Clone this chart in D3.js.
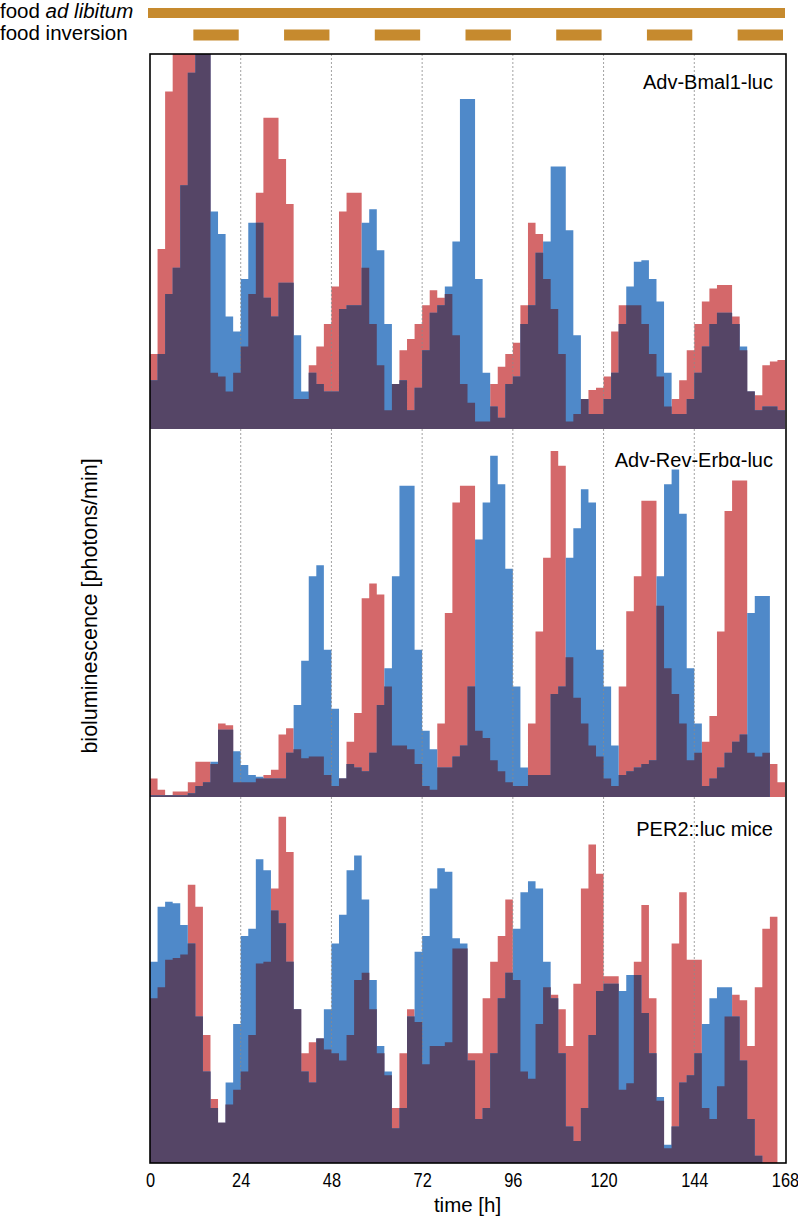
<!DOCTYPE html>
<html><head><meta charset="utf-8">
<script src="https://cdn.jsdelivr.net/npm/d3@7"></script>
<style>
body{margin:0;background:#fff}
svg{display:block}
text{font-family:"Liberation Sans",Arial,Helvetica,sans-serif;fill:#000}
</style>
</head><body>
<svg id="chart" width="798" height="1221"></svg>
<script>
// ---- data (2-hour bins, value = % of panel height) ----
const hours = d3.range(0, 169, 2);
const xTicks = [0, 24, 48, 72, 96, 120, 144, 168];
const gridHours = [24, 48, 72, 96, 120, 144];
const adLibitum = [0, 168];
const inversionStarts = [12, 36, 60, 84, 108, 132, 156];
const inversionLength = 12;
const panelNames = ["Adv-Bmal1-luc", "Adv-Rev-Erbα-luc", "PER2::luc mice"];

const bmal1Red = [20,48,90,110,110,110,110,110,15,14,
  10,15,22,36,63,83,83,72,60,8,
  8,17,22,28,38,58,63,63,43,28,
  17,5,12,21,24,28,33,37,35,36,
  25,12,7,2,2,12,16.6,20,23,33,
  55,52,40,32,20,2,4,8,10.4,11,
  14,26,33,33,33,28,20,14,6,8,
  13,21,28,34,37.5,38.4,38.4,30,21,10,
  9,17,18,18.4,19];
const bmal1Blue = [13,20,36,43,65,95,110,110,58,52,
  30,26,40,55,55,35,30,39,39,25,
  10,15,12,10,10,32,33,33,55,58.6,
  47.7,28,12,13,5,11,21,31,33,38,
  50,88,88,40,15,6,3,12,14,28,
  33,47,50,70,70,53,25,8,4,4,
  8,15,28,38,44.6,45,40,34,15,4,
  4,8,15,22,28,31,31,28,22,10,
  5,6,6,5,5];
const revRed = [5,2,0.5,1.5,1.5,4,9.6,9.6,9,20,
  19.5,4,4,4,5,6,7.4,17,18.7,13,
  10.5,11,11,6,3,5,15,22.8,54,58,
  55,30,14,14,13,9,3,2,20,50,
  80,84.6,84.6,18,16,10,7,4,3,3,
  20,45,65,94,90,38,27,20,14,11,
  5,3,30,50.5,60,80.5,80.5,52,35,28,
  20,10,12,15,22,45,77.7,86,86,12,
  11,12,9,4,1];
const revBlue = [0.5,0.5,0.5,0.5,0.5,1,3,4,9.6,18.3,
  18.3,12.4,8.7,6,5.5,5,5,5,12,25,
  37,60,63,40,24,5,9,8,7,12,
  25,35,60,84.6,84.6,40,18,13,8,8,
  11,14,30,70,80,92.7,85,62,30,8,
  6,6,6,28,30,65,73,83.6,80,40,
  30,14,6,7,8,9,10,60,85,89,
  77,35,20,3,5,8,12,15,17,50,
  54.6,54.6,0,0,0];
const per2Red = [45,48,55.5,56,57,76,70,35,17.5,11,
  16,20,25,35,54.5,55,75,94.6,85,42,
  30,33,34,31,30,28,35,50,52,42,
  30,24,15,30,42,38.5,27,32,32,33,
  58.6,58.6,30,30,45,55,62,72,50,25,
  23,38,48,46,42,32,49,75,87,79,
  51,51,20,21.8,55,70.5,45,17,4,60,
  74,55.5,55.5,15,12,21,40,46,44.5,32,
  48,64,67.3,0,0];
const per2Blue = [55,70,71.4,71,65,60,40,25,15,11,
  22,38,62,64,83,80,69,65.5,55,42,
  25,22,34,42,60,67.8,80,84,72,50,
  32,25,9.5,15,40,57.7,62,75,80.5,79.6,
  61.4,60,28,12,15,30,45,52,64,74,
  77,75,55,45,30,10,6,15,35,47,
  49,49,47,51.4,51.4,41,30,18,5,10,
  22,24,30,38,45,48,48,40,28,12,
  2,0,0,0,0];

// ---- layout ----
const svg = d3.select("#chart");
const colRed = "#d4686a", colBlue = "#4f89c9", colDark = "#554566", colFood = "#c68a2e";
const x = d3.scaleLinear().domain([0, 168]).range([150, 785]);
const panels = [
  {name: panelNames[0], red: bmal1Red, blue: bmal1Blue, top: 54, bottom: 429, labelDy: 35},
  {name: panelNames[1], red: revRed, blue: revBlue, top: 429, bottom: 797, labelDy: 38},
  {name: panelNames[2], red: per2Red, blue: per2Blue, top: 797, bottom: 1163, labelDy: 39}
];

// food bars
svg.append("text").attr("x", 0).attr("y", 18).attr("font-size", 20.5)
  .html('food <tspan font-style="italic">ad libitum</tspan>');
svg.append("text").attr("x", 0).attr("y", 40).attr("font-size", 20.5).text("food inversion");
svg.append("rect").attr("x", x(adLibitum[0]) - 2).attr("y", 8)
  .attr("width", x(adLibitum[1]) - x(adLibitum[0]) + 2).attr("height", 10).attr("fill", colFood);
svg.selectAll("rect.inv").data(inversionStarts).enter().append("rect").attr("class", "inv")
  .attr("x", d => x(d) - 2).attr("y", 29.5)
  .attr("width", x(inversionLength) - x(0)).attr("height", 11).attr("fill", colFood);

const defs = svg.append("defs");
panels.forEach((p, pi) => {
  const y = d3.scaleLinear().domain([0, 100]).range([p.bottom, p.top]);
  defs.append("clipPath").attr("id", "clip" + pi).append("rect")
    .attr("x", x(0)).attr("y", p.top).attr("width", x(168) - x(0)).attr("height", p.bottom - p.top);
  const g = svg.append("g").attr("clip-path", `url(#clip${pi})`);
  const mk = vals => d3.area().curve(d3.curveStepAfter)
    .x((d, i) => x(hours[i])).y0(p.bottom).y1(d => y(d))(vals);
  const minVals = p.red.map((v, i) => Math.min(v, p.blue[i]));
  g.append("path").attr("d", mk(p.red)).attr("fill", colRed);
  g.append("path").attr("d", mk(p.blue)).attr("fill", colBlue);
  g.selectAll("line.grid").data(gridHours).enter().append("line").attr("class", "grid")
    .attr("x1", d => x(d)).attr("x2", d => x(d)).attr("y1", p.top).attr("y2", p.bottom)
    .attr("stroke", "#8a8a8a").attr("stroke-width", 0.8).attr("stroke-dasharray", "2,2");
  g.append("path").attr("d", mk(minVals)).attr("fill", colDark);
  svg.append("text").attr("x", 773).attr("y", p.top + p.labelDy).attr("font-size", 20)
    .attr("text-anchor", "end").text(p.name);
});

// frame
svg.append("rect").attr("x", x(0)).attr("y", 54).attr("width", x(168) - x(0) + 1).attr("height", 1163 - 54)
  .attr("fill", "none").attr("stroke", "#000").attr("stroke-width", 1.6);

// x axis
const xAxis = d3.axisBottom(x).tickValues(xTicks).tickSize(0).tickPadding(10);
const ax = svg.append("g").attr("transform", "translate(0,1163)").call(xAxis);
ax.select(".domain").remove();
ax.selectAll("text").attr("font-size", 19.5).attr("fill", "#000")
  .attr("font-family", '"Liberation Sans",Arial,Helvetica,sans-serif')
  .attr("transform", "scale(0.84,1)");
svg.append("text").attr("x", x(84)).attr("y", 1212).attr("font-size", 20.5)
  .attr("text-anchor", "middle").text("time [h]");
svg.append("text").attr("transform", "translate(97,606) rotate(-90)").attr("font-size", 21.5)
  .attr("text-anchor", "middle").text("bioluminescence [photons/min]");
</script>
</body></html>
